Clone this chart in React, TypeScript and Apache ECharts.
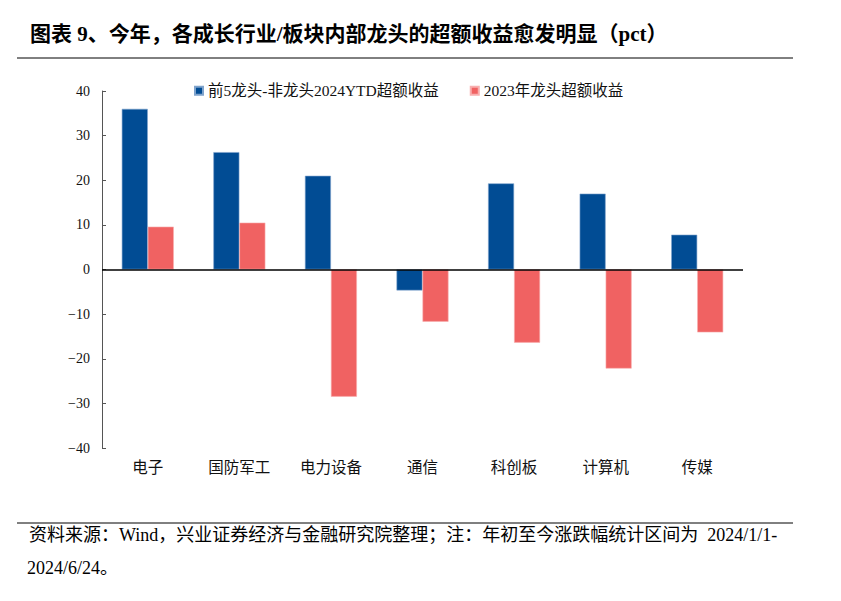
import React, { useEffect, useRef } from "react";
import * as echarts from "echarts";

const categories = ["电子", "国防军工", "电力设备", "通信", "科创板", "计算机", "传媒"];
const seriesNames = ["前5龙头-非龙头2024YTD超额收益", "2023年龙头超额收益"];
const leaderExcess2024 = [36.0, 26.3, 21.0, -4.7, 19.3, 17.0, 7.8];
const leaderExcess2023 = [9.6, 10.5, -28.5, -11.7, -16.4, -22.2, -14.1];
const yTicks = { min: -40, max: 40, interval: 10 };
const titleText = "图表 9、今年，各成长行业/板块内部龙头的超额收益愈发明显（pct）";
const noteLine1 = "资料来源：Wind，兴业证券经济与金融研究院整理；注：年初至今涨跌幅统计区间为  2024/1/1-";
const noteLine2 = "2024/6/24。";

const FONT = "'Liberation Serif', 'Noto Sans CJK SC', serif";

export default function App() {
  const ref = useRef<HTMLDivElement>(null);
  useEffect(() => {
    document.body.style.margin = "0";
    const chart = echarts.init(ref.current!, null, { renderer: "svg" });
    chart.setOption({
      animation: false,
      backgroundColor: "#ffffff",
      textStyle: { fontFamily: FONT },
      grid: { left: 102, right: 98, top: 91, bottom: 153 },
      legend: {
        top: 78,
        left: 189,
        itemWidth: 8,
        itemHeight: 8,
        itemGap: 31,
        icon: "rect",
        textStyle: { fontFamily: FONT, fontSize: 15.5, color: "#111" },
        data: seriesNames,
      },
      xAxis: {
        type: "category",
        data: categories,
        axisLine: { show: false, onZero: false },
        axisTick: { show: false },
        axisLabel: { fontFamily: FONT, fontSize: 15.5, color: "#111", margin: 12 },
      },
      yAxis: {
        type: "value",
        min: yTicks.min,
        max: yTicks.max,
        interval: yTicks.interval,
        splitLine: { show: false },
        axisLine: { show: true, lineStyle: { color: "#555", width: 1 } },
        axisTick: { show: true, inside: true, length: 4, lineStyle: { color: "#555" } },
        axisLabel: {
          fontFamily: FONT,
          fontSize: 14,
          color: "#111",
          margin: 12,
          formatter: (v: number) => (v < 0 ? "\u2212" + Math.abs(v) : String(v)),
        },
      },
      series: [
        {
          name: seriesNames[0],
          type: "bar",
          data: leaderExcess2024,
          barWidth: 26,
          barGap: "0%",
          itemStyle: { color: "#014C94", borderColor: "#7FA3CC", borderWidth: 0.6 },
          markLine: {
            silent: true,
            symbol: "none",
            label: { show: false },
            lineStyle: { color: "#000", width: 1.5, type: "solid" },
            data: [{ yAxis: 0 }],
          },
        },
        {
          name: seriesNames[1],
          type: "bar",
          data: leaderExcess2023,
          barWidth: 26,
          barGap: "0%",
          itemStyle: { color: "#F06262", borderColor: "#F8AFAF", borderWidth: 0.6 },
        },
      ],
      graphic: [
        {
          type: "text",
          left: 30,
          top: 23,
          style: { text: titleText, fontFamily: FONT, fontSize: 21, fontWeight: "bold", fill: "#000" },
        },
        {
          type: "line",
          shape: { x1: 17, y1: 58, x2: 793, y2: 58 },
          style: { stroke: "#000", lineWidth: 1 },
        },
        {
          type: "line",
          shape: { x1: 17, y1: 523, x2: 793, y2: 523 },
          style: { stroke: "#000", lineWidth: 1 },
        },
        {
          type: "text",
          left: 29,
          top: 526,
          style: { text: noteLine1, fontFamily: FONT, fontSize: 18, fill: "#000" },
        },
        {
          type: "text",
          left: 27,
          top: 559,
          style: { text: noteLine2, fontFamily: FONT, fontSize: 18, fill: "#000" },
        },
      ],
    });
    return () => chart.dispose();
  }, []);
  return <div ref={ref} style={{ width: 841, height: 601 }} />;
}
